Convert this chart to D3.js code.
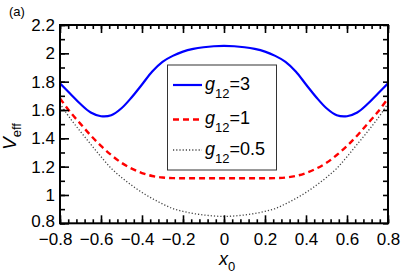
<!DOCTYPE html>
<html>
<head>
<meta charset="utf-8">
<script src="https://cdn.jsdelivr.net/npm/d3@7"></script>
<style>
  html, body { margin: 0; padding: 0; background: #fff; }
  svg { display: block; }
  text { font-family: "Liberation Sans", Arial, sans-serif; fill: #000; }
</style>
</head>
<body>
<svg id="chart" width="407" height="276"></svg>
<script>
// ---- data ----
const xs = [-0.8,-0.75,-0.7,-0.65,-0.6,-0.55,-0.5,-0.45,-0.4,-0.35,-0.3,-0.25,-0.2,-0.15,-0.1,-0.05,0,
             0.05,0.1,0.15,0.2,0.25,0.3,0.35,0.4,0.45,0.5,0.55,0.6,0.65,0.7,0.75,0.8];
const g3Vals = [1.788,1.715,1.642,1.582,1.556,1.563,1.612,1.690,1.780,1.872,1.940,1.982,2.012,2.031,2.043,2.050,2.052,
                2.050,2.043,2.031,2.012,1.982,1.940,1.872,1.780,1.690,1.612,1.563,1.556,1.582,1.642,1.715,1.788];
const g1Vals = [1.682,1.585,1.502,1.420,1.346,1.282,1.227,1.186,1.155,1.134,1.123,1.119,1.118,1.118,1.118,1.118,1.118,
                1.118,1.118,1.118,1.118,1.119,1.123,1.134,1.155,1.186,1.227,1.282,1.346,1.420,1.502,1.585,1.682];
const g05Vals = [1.645,1.540,1.447,1.358,1.270,1.188,1.124,1.068,1.018,0.975,0.937,0.904,0.884,0.869,0.859,0.852,0.848,
                 0.852,0.859,0.869,0.884,0.904,0.937,0.975,1.018,1.068,1.124,1.188,1.270,1.358,1.447,1.540,1.645];
const seriesNames = ["3", "1", "0.5"];
const xTickValues = [-0.8,-0.6,-0.4,-0.2,0,0.2,0.4,0.6,0.8];
const xTickLabels = ["\u22120.8","\u22120.6","\u22120.4","\u22120.2","0","0.2","0.4","0.6","0.8"];
const yTickValues = [0.8,1,1.2,1.4,1.6,1.8,2,2.2];
const yTickLabels = ["0.8","1","1.2","1.4","1.6","1.8","2","2.2"];
const xMinorValues = d3.range(-0.8, 0.8001, 0.04).map(v => +v.toFixed(2));
const yMinorValues = d3.range(0.8, 2.2001, 0.1).map(v => +v.toFixed(1));

// ---- layout ----
const svg = d3.select("#chart");
const L = 60, R = 388, T = 25, B = 223.3;
const x = d3.scaleLinear().domain([-0.8, 0.8]).range([L, R]);
const y = d3.scaleLinear().domain([0.8, 2.2]).range([B, T]);

svg.append("rect").attr("width", 407).attr("height", 276).attr("fill", "#fff");

// ---- curves ----
const line = d3.line().x((d, i) => x(xs[i])).y(d => y(d)).curve(d3.curveCatmullRom);
const styles = [
  { vals: g3Vals, color: "#0000ff", width: 2.2, dash: null },
  { vals: g1Vals, color: "#ff0000", width: 2.4, dash: "6,4" },
  { vals: g05Vals, color: "#444", width: 1.3, dash: "1.2,2" }
];
svg.append("clipPath").attr("id", "clip").append("rect")
  .attr("x", L).attr("y", T).attr("width", R - L).attr("height", B - T);
const plot = svg.append("g").attr("clip-path", "url(#clip)");
styles.slice().reverse().forEach(s => {
  plot.append("path").attr("d", line(s.vals)).attr("fill", "none")
    .attr("stroke", s.color).attr("stroke-width", s.width)
    .attr("stroke-dasharray", s.dash);
});

// ---- axes ----
function styleAxis(g) {
  g.select(".domain").remove();
  g.selectAll(".tick line").attr("stroke", "#000").attr("stroke-width", 1.6);
  g.selectAll(".tick text").attr("font-size", 17).attr("font-family", "Liberation Sans, Arial, sans-serif");
}
// bottom
svg.append("g").attr("transform", `translate(0,${B})`)
  .call(d3.axisBottom(x).tickValues(xMinorValues).tickSize(-4).tickFormat("")).call(styleAxis);
const bx = svg.append("g").attr("transform", `translate(0,${B})`)
  .call(d3.axisBottom(x).tickValues(xTickValues).tickSizeInner(-8).tickSizeOuter(0).tickPadding(10)
    .tickFormat((d, i) => xTickLabels[i])).call(styleAxis);
bx.selectAll(".tick text").attr("dx", (d) => d < 0 ? "-0.29em" : null);
// top
svg.append("g").attr("transform", `translate(0,${T})`)
  .call(d3.axisTop(x).tickValues(xMinorValues).tickSize(-4).tickFormat("")).call(styleAxis);
svg.append("g").attr("transform", `translate(0,${T})`)
  .call(d3.axisTop(x).tickValues(xTickValues).tickSize(-8).tickFormat("")).call(styleAxis);
// left
svg.append("g").attr("transform", `translate(${L},0)`)
  .call(d3.axisLeft(y).tickValues(yMinorValues).tickSize(-5).tickFormat("")).call(styleAxis);
const ly = svg.append("g").attr("transform", `translate(${L},0)`)
  .call(d3.axisLeft(y).tickValues(yTickValues).tickSizeInner(-9).tickSizeOuter(0).tickPadding(5)
    .tickFormat((d, i) => yTickLabels[i])).call(styleAxis);
ly.selectAll(".tick text").filter(d => d === 0.8).attr("dy", "0.2em");
// right
svg.append("g").attr("transform", `translate(${R},0)`)
  .call(d3.axisRight(y).tickValues(yMinorValues).tickSize(-5).tickFormat("")).call(styleAxis);

// frame
svg.append("rect").attr("x", L).attr("y", T).attr("width", R - L).attr("height", B - T)
  .attr("fill", "none").attr("stroke", "#000").attr("stroke-width", 2);

// ---- axis labels ----
const xl = svg.append("text").attr("x", 219).attr("y", 265).attr("font-size", 18);
xl.append("tspan").attr("font-style", "italic").text("x");
xl.append("tspan").attr("font-size", 13).attr("dy", 6).text("0");

const yl = svg.append("text").attr("transform", "translate(16,150) rotate(-90)").attr("font-size", 19);
yl.append("tspan").attr("font-style", "italic").text("V");
yl.append("tspan").attr("font-size", 13).attr("dy", 5).text("eff");

svg.append("text").attr("x", 9).attr("y", 16).attr("font-size", 13)
  .attr("font-family", "DejaVu Sans Mono, monospace").attr("fill", "#222").text("(a)");

// ---- legend ----
const lg = svg.append("g");
lg.append("rect").attr("x", 167.5).attr("y", 65).attr("width", 109).attr("height", 105)
  .attr("fill", "#fff").attr("stroke", "#333").attr("stroke-width", 1);
const legendY = [85, 119.5, 150];
styles.forEach((s, i) => {
  lg.append("line").attr("x1", 173).attr("x2", 202).attr("y1", legendY[i]).attr("y2", legendY[i])
    .attr("stroke", s.color).attr("stroke-width", s.width).attr("stroke-dasharray", s.dash);
  const t = lg.append("text").attr("x", 205).attr("y", legendY[i] + 4.5).attr("font-size", 18);
  t.append("tspan").attr("font-style", "italic").text("g");
  t.append("tspan").attr("font-size", 13).attr("dy", 8).text("12");
  t.append("tspan").attr("dy", -8).text("=" + seriesNames[i]);
});
</script>
</body>
</html>
